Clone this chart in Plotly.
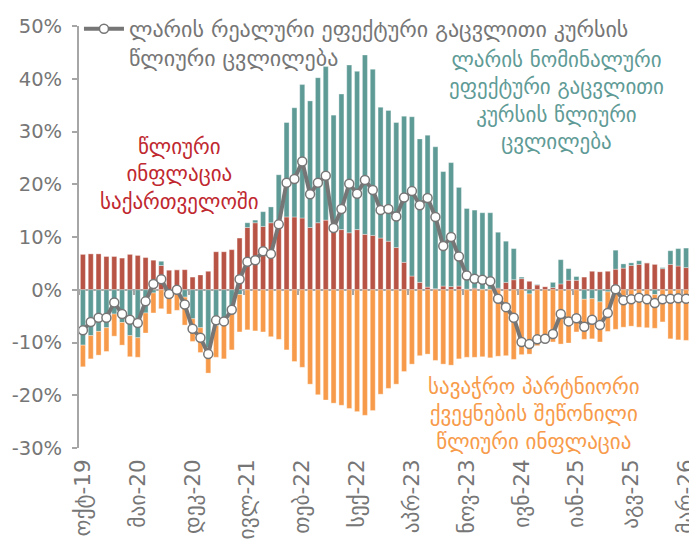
import plotly.graph_objects as go

# ---------------- DATA ----------------
month_abbr = ["იან", "თებ", "მარ", "აპრ", "მაი", "ივნ", "ივლ", "აგვ", "სექ", "ოქტ", "ნოვ", "დეკ"]
months = []
for yr in range(2019, 2027):
    for m, ab in enumerate(month_abbr):
        if (yr == 2019 and m < 9) or (yr == 2026 and m > 2):
            continue
        months.append(f"{ab}-{str(yr)[2:]}")

georgia_inflation = [6.7, 6.8, 6.8, 6.3, 6.3, 6.0, 6.7, 6.5, 6.1, 5.6,
                     4.6, 3.7, 3.8, 3.8, 2.4, 2.8, 3.5, 7.2, 7.2, 7.6,
                     9.8, 11.8, 12.7, 12.0, 12.7, 12.9, 13.8, 13.8, 13.6, 11.8,
                     12.7, 13.2, 11.3, 11.4, 10.8, 11.4, 10.5, 10.3, 9.8, 9.2,
                     8.0, 5.2, 2.6, 1.4, 0.5, 0.2, 0.7, 0.6, 0.7, 0.1,
                     0.3, 0.1, 0.1, 0.3, 1.4, 1.9, 2.1, 1.6, 0.9, 0.6,
                     0.4, 1.1, 1.8, 1.8, 2.4, 3.5, 3.4, 3.5, 3.9, 4.1,
                     4.6, 4.8, 5.1, 4.8, 4.0, 4.8, 4.5, 4.2]

neer_change = [-10.5, -8.7, -7.9, -7.2, -4.6, -6.2, -8.7, -9.1, -4.4, -0.6,
               0.8, -0.3, 0.0, -1.4, -5.5, -7.2, -11.0, -6.8, -6.8, -3.9,
               -0.9, 0.9, 0.5, 2.8, 3.0, 8.9, 17.9, 20.7, 25.3, 24.0,
               27.5, 29.1, 21.8, 25.7, 31.8, 30.0, 34.0, 31.5, 24.8, 24.8,
               23.7, 27.7, 30.2, 27.2, 28.8, 26.9, 21.7, 23.5, 18.7, 15.3,
               14.8, 14.5, 14.5, 10.6, 7.8, 5.9, 0.3, -0.8, 0.1, 0.0,
               1.0, 4.6, 2.2, 0.7, -1.8, -1.7, -2.3, -0.4, 3.6, 0.8,
               0.5, 0.7, 0.0, -0.9, 0.2, 2.6, 3.3, 3.7]

partner_inflation_neg = [-4.1, -4.4, -4.5, -4.5, -4.2, -4.3, -4.0, -3.7, -3.8, -3.8,
                         -3.6, -4.3, -3.9, -5.3, -4.3, -4.7, -4.8, -6.0, -6.3, -7.5,
                         -7.1, -7.6, -7.8, -8.0, -8.9, -9.4, -11.4, -13.6, -14.7, -17.9,
                         -19.9, -20.9, -21.5, -21.9, -22.5, -23.1, -23.8, -22.9, -19.8, -18.7,
                         -17.9, -15.5, -14.1, -12.5, -12.2, -13.4, -14.1, -14.3, -13.1, -12.8,
                         -12.8, -12.7, -12.9, -12.6, -12.5, -13.2, -12.3, -11.4, -10.6, -10.1,
                         -9.9, -10.3, -10.1, -8.0, -7.6, -7.6, -7.6, -7.5, -7.5, -7.1,
                         -6.9, -7.1, -7.2, -6.4, -6.1, -9.3, -9.5, -9.6]

reer_change = [-7.7, -6.1, -5.3, -5.3, -2.4, -4.6, -5.7, -6.3, -2.2, 1.1,
               2.0, -0.8, 0.0, -2.8, -7.4, -9.1, -12.2, -5.8, -6.0, -3.8,
               2.0, 5.3, 5.6, 7.3, 6.8, 12.4, 20.3, 21.0, 24.3, 18.1,
               20.3, 21.6, 11.7, 15.3, 20.1, 18.2, 20.8, 18.9, 15.1, 15.3,
               13.9, 17.5, 18.7, 16.0, 17.4, 13.8, 8.3, 10.0, 6.3, 2.7,
               2.1, 1.9, 1.6, -1.7, -3.3, -5.3, -9.9, -10.3, -9.4, -9.3,
               -8.4, -4.6, -6.0, -5.4, -7.0, -5.7, -6.7, -4.4, 0.1, -2.0,
               -1.8, -1.5, -1.8, -2.5, -1.8, -1.7, -1.6, -1.7]

tick_labels = months[::7]
y_tick_values = [-30, -20, -10, 0, 10, 20, 30, 40, 50]
y_tick_text = ["-30%", "-20%", "-10%", "0%", "10%", "20%", "30%", "40%", "50%"]

legend_name = "ლარის რეალური ეფექტური გაცვლითი კურსის<br>წლიური ცვლილება"
label_red = "წლიური<br>ინფლაცია<br>საქართველოში"
label_teal = "ლარის ნომინალური<br>ეფექტური გაცვლითი<br>კურსის წლიური<br>ცვლილება"
label_orange = "სავაჭრო პარტნიორი<br>ქვეყნების შეწონილი<br>წლიური ინფლაცია"

# ---------------- STYLE ----------------
FONT = "DejaVu Sans"
GRAY = "#767676"
AXIS_GRAY = "#a6a6a6"
RED = "#b85445"
TEAL = "#5f9b96"
ORANGE = "#f79b4b"
FS_NUM = 19.5     # y tick labels
FS_XT = 21.5      # x tick labels
FS_LEG = 22       # legend
FS_GEO = 21       # Georgian in-plot labels

fig = go.Figure()
bar_line = dict(color="rgba(255,255,255,0.55)", width=0.6)
fig.add_trace(go.Bar(x=months, y=georgia_inflation, marker=dict(color=RED, line=bar_line),
                     showlegend=False, name="red"))
fig.add_trace(go.Bar(x=months, y=neer_change, marker=dict(color=TEAL, line=bar_line),
                     showlegend=False, name="teal"))
fig.add_trace(go.Bar(x=months, y=partner_inflation_neg, marker=dict(color=ORANGE, line=bar_line),
                     showlegend=False, name="orange"))
fig.add_trace(go.Scatter(x=months, y=reer_change, mode="lines+markers", name=legend_name,
                         line=dict(color=GRAY, width=4),
                         marker=dict(symbol="circle", size=9, color="white",
                                     line=dict(color=GRAY, width=1.5)),
                         showlegend=True))
# invisible helper trace for the tick marks on the zero line
fig.add_trace(go.Scatter(x=months, y=reer_change, xaxis="x2", mode="lines",
                         line=dict(width=0), opacity=0, hoverinfo="skip", showlegend=False))

fig.update_layout(
    width=689, height=533,
    margin=dict(l=71, r=7, t=18, b=93, autoexpand=False),
    paper_bgcolor="white", plot_bgcolor="white",
    barmode="relative", bargap=0.36,
    font=dict(family=FONT, size=FS_NUM, color=GRAY),
    xaxis=dict(type="category", range=[-0.5, len(months) - 0.5], automargin=False,
               tickvals=tick_labels, ticktext=tick_labels, tickangle=-90,
               ticks="", ticklabelstandoff=6, showline=False, showgrid=False, zeroline=False,
               tickfont=dict(family=FONT, size=FS_XT, color=GRAY)),
    xaxis2=dict(type="category", overlaying="x", anchor="free", position=0.375,
                range=[-0.5, len(months) - 0.5], tickvals=tick_labels, automargin=False,
                tickson="boundaries", ticks="outside", ticklen=4, tickwidth=1.5,
                tickcolor=AXIS_GRAY, showticklabels=False, showline=False,
                showgrid=False, zeroline=False),
    yaxis=dict(range=[-30, 50], tickvals=y_tick_values, ticktext=y_tick_text, automargin=False,
               showgrid=False, zeroline=True, zerolinecolor=AXIS_GRAY, zerolinewidth=2,
               showline=True, linecolor=AXIS_GRAY, linewidth=2,
               ticks="outside", ticklen=5, tickwidth=1.5, tickcolor=AXIS_GRAY,
               ticklabelstandoff=6,
               tickfont=dict(family=FONT, size=FS_NUM, color=GRAY)),
    legend=dict(xref="container", yref="container", x=0.103, y=1.024,
                xanchor="left", yanchor="top", valign="top",
                bgcolor="rgba(0,0,0,0)", font=dict(family=FONT, size=FS_LEG, color=GRAY),
                itemwidth=40, tracegroupgap=0),
    showlegend=True,
)


def add_label(text, x, y, color):
    fig.add_annotation(text=text, xref="paper", yref="paper", x=x, y=y,
                       showarrow=False, align="center", xanchor="center", yanchor="middle",
                       font=dict(family=FONT, size=FS_GEO, color=color))


add_label(label_red, 0.165, 0.649, "#c0282f")
add_label(label_teal, 0.782, 0.822, TEAL)
add_label(label_orange, 0.745, 0.079, ORANGE)

fig.write_html("out.html")
